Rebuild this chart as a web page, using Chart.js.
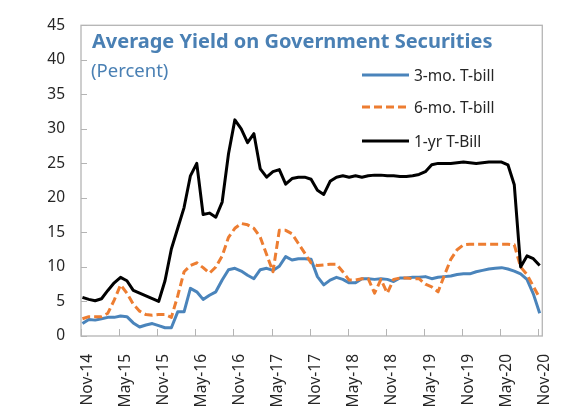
<!DOCTYPE html>
<html>
<head>
<meta charset="utf-8">
<script src="https://cdn.jsdelivr.net/npm/chart.js@4/dist/chart.umd.min.js"></script>
<style>
  html, body { margin: 0; padding: 0; background: #ffffff; }
  #wrap { position: relative; width: 573px; height: 411px; overflow: hidden; }
  #chart { position: absolute; left: 0; top: 0; }
  .title { position: absolute; left: 92px; top: 31px; font: bold 20px "Noto Sans", sans-serif; line-height: 1; color: #4a80b4; white-space: nowrap; }
  .subtitle { position: absolute; left: 91px; top: 61px; font: 18.5px "Noto Sans", sans-serif; line-height: 1; color: #4a80b4; white-space: nowrap; }
  .legend-item { position: absolute; left: 362px; height: 20px; display: flex; align-items: center; white-space: nowrap; }
  .legend-item svg { display: block; }
  .legend-item span { margin-left: 5px; font: 15.5px "Noto Sans", sans-serif; color: #262626; line-height: 20px; }
</style>
</head>
<body>
<div id="wrap">
  <canvas id="chart" width="573" height="411"></canvas>
  <div class="title">Average Yield on Government Securities</div>
  <div class="subtitle">(Percent)</div>
  <div id="legend"></div>
</div>
<script>
// Monthly categories, Nov-14 .. Nov-20
const months = [
  'Nov-14','Dec-14','Jan-15','Feb-15','Mar-15','Apr-15','May-15','Jun-15','Jul-15','Aug-15','Sep-15','Oct-15',
  'Nov-15','Dec-15','Jan-16','Feb-16','Mar-16','Apr-16','May-16','Jun-16','Jul-16','Aug-16','Sep-16','Oct-16',
  'Nov-16','Dec-16','Jan-17','Feb-17','Mar-17','Apr-17','May-17','Jun-17','Jul-17','Aug-17','Sep-17','Oct-17',
  'Nov-17','Dec-17','Jan-18','Feb-18','Mar-18','Apr-18','May-18','Jun-18','Jul-18','Aug-18','Sep-18','Oct-18',
  'Nov-18','Dec-18','Jan-19','Feb-19','Mar-19','Apr-19','May-19','Jun-19','Jul-19','Aug-19','Sep-19','Oct-19',
  'Nov-19','Dec-19','Jan-20','Feb-20','Mar-20','Apr-20','May-20','Jun-20','Jul-20','Aug-20','Sep-20','Oct-20',
  'Nov-20'
];

// Labelled months on the horizontal axis
const tickLabels = ['Nov-14','May-15','Nov-15','May-16','Nov-16','May-17','Nov-17','May-18','Nov-18','May-19','Nov-19','May-20','Nov-20'];

// Vertical axis ticks (percent)
const yTicks = [0, 5, 10, 15, 20, 25, 30, 35, 40, 45];

// Average yields, percent
const bill3m = [
  1.8, 2.4, 2.3, 2.5, 2.7, 2.7, 2.9, 2.8, 1.9, 1.3, 1.6, 1.8,
  1.5, 1.2, 1.2, 3.5, 3.5, 6.9, 6.4, 5.3, 5.9, 6.4, 8.1, 9.6,
  9.8, 9.4, 8.8, 8.3, 9.6, 9.8, 9.5, 10.1, 11.5, 11.0, 11.2, 11.2,
  11.1, 8.6, 7.4, 8.1, 8.5, 8.2, 7.7, 7.7, 8.3, 8.3, 8.2, 8.3,
  8.2, 7.9, 8.4, 8.4, 8.5, 8.5, 8.6, 8.3, 8.5, 8.6, 8.7, 8.9,
  9.0, 9.0, 9.3, 9.5, 9.7, 9.8, 9.9, 9.7, 9.4, 9.0, 8.2, 6.1,
  3.3
];
const bill6m = [
  2.5, 2.8, 2.8, 2.8, 3.3, 5.2, 7.4, 6.2, 4.6, 3.6, 3.1, 3.0,
  3.1, 3.1, 2.7, 5.8, 9.3, 10.2, 10.6, 9.9, 9.1, 10.0, 11.6, 14.3,
  15.6, 16.3, 16.1, 15.6, 14.3, 11.8, 9.3, 15.3, 15.3, 14.8, 13.4, 12.0,
  10.6, 10.2, 10.3, 10.4, 10.4, 9.3, 8.1, 8.1, 8.3, 8.3, 6.2, 8.2,
  6.2, 8.2, 8.4, 8.4, 8.3, 8.3, 7.5, 7.1, 6.4, 8.8, 11.1, 12.5,
  13.2, 13.3, 13.3, 13.3, 13.3, 13.3, 13.3, 13.3, 13.2, 10.0, 8.9, 7.2,
  5.5
];
const bill1y = [
  5.6, 5.3, 5.1, 5.4, 6.6, 7.7, 8.5, 8.0, 6.6, 6.2, 5.8, 5.4,
  5.0, 8.0, 12.6, 15.6, 18.6, 23.2, 25.0, 17.6, 17.8, 17.2, 19.4, 26.4,
  31.3, 30.0, 28.0, 29.3, 24.2, 23.0, 23.8, 24.1, 22.0, 22.8, 23.0, 23.0,
  22.7, 21.1, 20.5, 22.4, 23.0, 23.2, 23.0, 23.2, 23.0, 23.2, 23.3, 23.3,
  23.2, 23.2, 23.1, 23.1, 23.2, 23.4, 23.8, 24.8, 25.0, 25.0, 25.0, 25.1,
  25.2, 25.1, 25.0, 25.1, 25.2, 25.2, 25.2, 24.8, 21.9, 10.0, 11.6, 11.2,
  10.2
];

const seriesNames = ['3-mo. T-bill', '6-mo. T-bill', '1-yr T-Bill'];
const seriesColors = ['#4a84bb', '#ed7d31', '#000000'];
const AXIS_COLOR = '#b4b4b4';
const TEXT_COLOR = '#262626';
// tick marks sit at the start of each month, points a little later
const TICK_SHIFT = -0.23;
// rotated labels hang slightly to the right of their tick mark
const LABEL_SHIFT = 0.75;

const toPoints = arr => arr.map((v, i) => ({ x: i, y: v }));
const tickIndex = tickLabels.map(lbl => months.indexOf(lbl));

// Frame around the plot and short inward tick marks
const frameTicks = {
  id: 'frameTicks',
  beforeDatasetsDraw(chart) {
    const { ctx, chartArea: a, scales: { x, y } } = chart;
    ctx.save();
    ctx.strokeStyle = AXIS_COLOR;
    ctx.lineWidth = 1;
    ctx.beginPath();
    tickIndex.forEach(i => {
      const px = Math.round(x.getPixelForValue(i + TICK_SHIFT)) + 0.5;
      ctx.moveTo(px, a.bottom);
      ctx.lineTo(px, a.bottom - 7);
    });
    y.ticks.forEach(t => {
      const py = Math.round(y.getPixelForValue(t.value)) + 0.5;
      ctx.moveTo(a.left, py);
      ctx.lineTo(a.left + 6, py);
    });
    ctx.stroke();
    ctx.lineWidth = 1.3;
    ctx.strokeRect(a.left, a.top, a.right - a.left, a.bottom - a.top);
    ctx.restore();
  }
};

Chart.defaults.font.family = '"Noto Sans", sans-serif';
Chart.defaults.color = TEXT_COLOR;

new Chart(document.getElementById('chart'), {
  type: 'line',
  data: {
    datasets: [
      { label: seriesNames[0], data: toPoints(bill3m), borderColor: seriesColors[0], borderWidth: 3, order: 3 },
      { label: seriesNames[1], data: toPoints(bill6m), borderColor: seriesColors[1], borderWidth: 3, borderDash: [8, 4], order: 2 },
      { label: seriesNames[2], data: toPoints(bill1y), borderColor: seriesColors[2], borderWidth: 3, order: 1 }
    ]
  },
  options: {
    responsive: false,
    animation: false,
    devicePixelRatio: 1,
    layout: { padding: { left: 0, right: 9, top: 14, bottom: 0 } },
    elements: { point: { radius: 0 }, line: { tension: 0, borderCapStyle: 'butt', borderJoinStyle: 'round' } },
    plugins: { legend: { display: false }, tooltip: { enabled: false } },
    scales: {
      x: {
        type: 'linear',
        min: -0.23,
        max: 72.41,
        grid: { display: false },
        border: { display: false },
        afterBuildTicks: scale => {
          scale.ticks = tickIndex.map(i => ({ value: i + LABEL_SHIFT }));
        },
        afterFit: scale => { scale.height = 75; },
        ticks: {
          autoSkip: false,
          minRotation: 90,
          maxRotation: 90,
          padding: 10,
          color: TEXT_COLOR,
          font: { size: 15.5 },
          callback: v => months[Math.round(v - LABEL_SHIFT)]
        }
      },
      y: {
        min: 0,
        max: 45,
        grid: { display: false, drawTicks: false },
        border: { display: false },
        afterBuildTicks: scale => { scale.ticks = yTicks.map(v => ({ value: v })); },
        afterFit: scale => { scale.width = 81; },
        ticks: { padding: 16, color: TEXT_COLOR, font: { size: 15.5 } }
      }
    }
  },
  plugins: [frameTicks]
});

// Legend entries beside the lines
const legendTops = [65, 97, 131];
const legendEl = document.getElementById('legend');
seriesNames.forEach((name, k) => {
  const item = document.createElement('div');
  item.className = 'legend-item';
  item.style.top = legendTops[k] + 'px';
  const dash = k === 1 ? ' stroke-dasharray="8 4"' : '';
  item.innerHTML = '<svg width="47" height="6"><line x1="0" y1="3" x2="47" y2="3" stroke="' + seriesColors[k] +
    '" stroke-width="3"' + dash + '/></svg><span>' + name + '</span>';
  legendEl.appendChild(item);
});
</script>
</body>
</html>
